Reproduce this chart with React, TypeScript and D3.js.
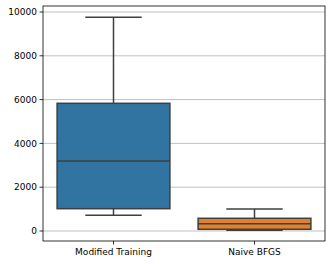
import React from "react";
import * as d3 from "d3";

const categories = ["Modified Training", "Naive BFGS"];
const whiskerLow = [717, 30];
const q1 = [1018, 78];
const median = [3196, 333];
const q3 = [5831, 580];
const whiskerHigh = [9758, 1005];
const colors = ["#3274a1", "#e1812c"];
const yTicks = [0, 2000, 4000, 6000, 8000, 10000];

export default function App() {
  const W = 332, H = 264;
  const left = 43, right = 325, top = 6, bottom = 241;
  const y = d3.scaleLinear().domain([-457, 10274]).range([bottom, top]);
  const x = d3.scaleBand().domain(categories).range([left, right]);
  const bw = x.bandwidth() * 0.8;
  const edge = "#3f3f3f";
  const font = "DejaVu Sans, sans-serif";
  return (
    <svg width={W} height={H} style={{ position: "absolute", left: 0, top: 0 }}>
      <rect width={W} height={H} fill="white" />
      {yTicks.map((t) => (
        <g key={t}>
          <line x1={left} x2={right} y1={y(t)} y2={y(t)} stroke="#b0b0b0" strokeWidth={0.8} />
          <line x1={left - 3.5} x2={left} y1={y(t)} y2={y(t)} stroke="black" strokeWidth={0.8} />
          <text x={left - 6} y={y(t)} dy="0.35em" textAnchor="end" fontSize={9} fontFamily={font}>{t}</text>
        </g>
      ))}
      {categories.map((c, i) => {
        const cx = x(c)! + x.bandwidth() / 2;
        const x0 = cx - bw / 2;
        const capW = bw / 2;
        return (
          <g key={c}>
            <line x1={cx} x2={cx} y1={y(q3[i])} y2={y(whiskerHigh[i])} stroke={edge} strokeWidth={1.5} />
            <line x1={cx} x2={cx} y1={y(q1[i])} y2={y(whiskerLow[i])} stroke={edge} strokeWidth={1.5} />
            <line x1={cx - capW / 2} x2={cx + capW / 2} y1={y(whiskerHigh[i])} y2={y(whiskerHigh[i])} stroke={edge} strokeWidth={1.5} />
            <line x1={cx - capW / 2} x2={cx + capW / 2} y1={y(whiskerLow[i])} y2={y(whiskerLow[i])} stroke={edge} strokeWidth={1.5} />
            <rect x={x0} y={y(q3[i])} width={bw} height={y(q1[i]) - y(q3[i])} fill={colors[i]} stroke={edge} strokeWidth={1.5} />
            <line x1={x0} x2={x0 + bw} y1={y(median[i])} y2={y(median[i])} stroke={edge} strokeWidth={1.5} />
            <line x1={cx} x2={cx} y1={bottom} y2={bottom + 3.5} stroke="black" strokeWidth={0.8} />
            <text x={cx} y={bottom + 14} textAnchor="middle" fontSize={9} fontFamily={font}>{c}</text>
          </g>
        );
      })}
      <rect x={left} y={top} width={right - left} height={bottom - top} fill="none" stroke="black" strokeWidth={0.8} />
    </svg>
  );
}
